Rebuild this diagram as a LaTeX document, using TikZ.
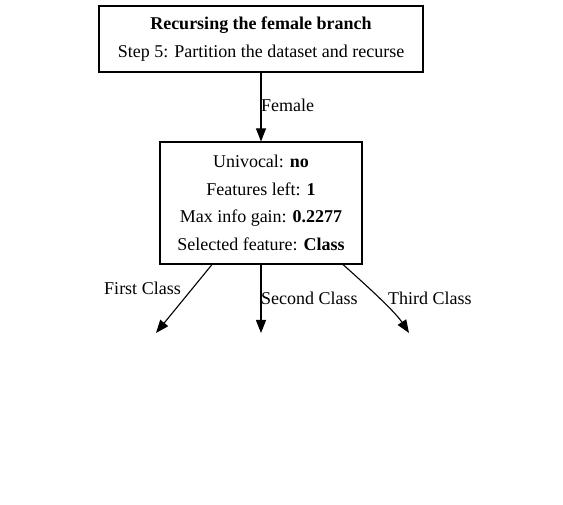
\documentclass[tikz,border=0pt]{standalone}
\usepackage{fontspec}
\setmainfont{Liberation Serif}
\usetikzlibrary{arrows.meta}
\begin{document}
\begin{tikzpicture}[x=1pt,y=-1pt,
  box/.style={draw=black,line width=1.1pt,inner sep=0pt,align=center,
    font=\fontsize{18}{27.5}\selectfont},
  lbl/.style={inner sep=0pt,font=\fontsize{18}{20}\selectfont},
  edge/.style={line width=1.1pt,-{Triangle[length=13pt,width=10pt]}}]
\useasboundingbox (0,0) rectangle (563,505);
\node[box,minimum width=324pt,minimum height=66pt] (top) at (261,39)
  {\textbf{Recursing the female branch}\\Step 5: Partition the dataset and recurse};
\node[box,minimum width=202pt,minimum height=122pt] (mid) at (261,203)
  {Univocal: \textbf{no}\\Features left: \textbf{1}\\Max info gain: \textbf{0.2277}\\Selected feature: \textbf{Class}};
\coordinate (e1) at (156,333);
\coordinate (e2) at (261,333);
\coordinate (e3) at (409,333);
\draw[edge] (top.south) -- (mid.north);
\draw[edge] (mid.south -| 212,0) -- (e1);
\draw[edge] (mid.south) -- (e2);
\draw[edge] (mid.south -| 343,0) .. controls (358,278) and (394,310) .. (e3);
\node[lbl,anchor=west] (lf) at (261,105) {Female};
\node[lbl] (l1) at (142.5,288) {First Class};
\node[lbl,anchor=west] (l2) at (261,298) {Second Class};
\node[lbl,anchor=west] (l3) at (388,298) {Third Class};
\end{tikzpicture}
\end{document}
